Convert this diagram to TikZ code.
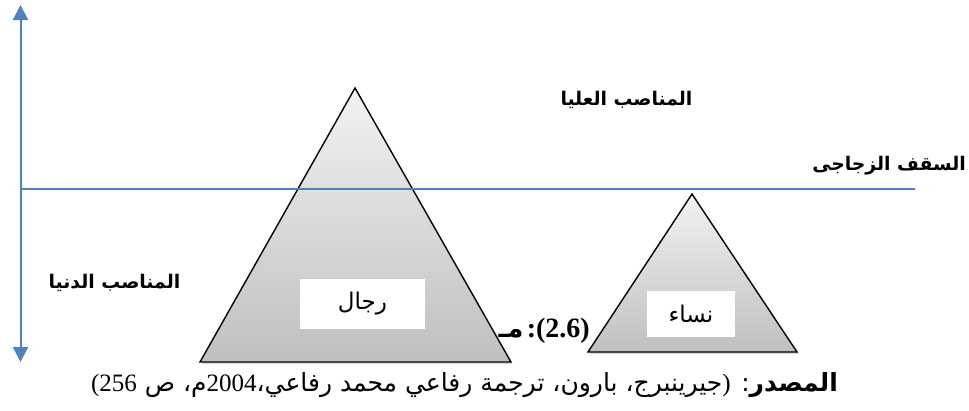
\documentclass[tikz,border=0pt]{standalone}
\usepackage{fontspec}
\setmainfont{Liberation Serif}
\newfontfamily\arabicfont[Script=Arabic]{DejaVu Sans}
\newfontfamily\serifnum{Liberation Serif}
\TeXXeTstate=1
\usetikzlibrary{arrows.meta,shadows}

\definecolor{axisblue}{HTML}{4F81BD}

\tikzset{
  pyramid/.style={draw=black,line width=1.4pt,top color=gray!10,bottom color=gray!50,
    drop shadow={opacity=0.3,shadow xshift=1.5pt,shadow yshift=-2pt}},
  groupbox/.style={fill=white,inner sep=0pt,font=\arabicfont\fontsize{23}{26}\selectfont},
  levellabel/.style={inner sep=0pt,font=\arabicfont\bfseries\fontsize{18.8}{21}\selectfont},
  axisarrow/.style={draw=axisblue,line width=2pt,
    {Triangle[width=15pt,length=15pt]}-{Triangle[width=15pt,length=15pt]}},
  ceilingline/.style={draw=axisblue,line width=1.3pt},
}

\newcommand\numfont{\serifnum\fontsize{25}{28}\selectfont}

\begin{document}
\begin{tikzpicture}[x=1pt,y=-1pt]
        \useasboundingbox (0,0) rectangle (969,410);
        % caption, partly hidden by the pyramids
        \node[inner sep=0pt,anchor=east] (caption) at (590,331) {\beginR\beginL{\serifnum\bfseries\fontsize{28}{30}\selectfont(2.6)}\endL{\serifnum\bfseries\fontsize{28}{30}\selectfont:} {\arabicfont\bfseries\fontsize{26}{28}\selectfont مـ}\endR};

        \coordinate (mentop) at (355,88);
        \coordinate (menleft) at (200,362);
        \coordinate (menright) at (511,362);
        \coordinate (womentop) at (692,194);
        \coordinate (womenleft) at (588,352);
        \coordinate (womenright) at (797,352);

        \draw[pyramid] (mentop) -- (menright) -- (menleft) -- cycle;
        \draw[pyramid] (womentop) -- (womenright) -- (womenleft) -- cycle;

        \node[groupbox,minimum width=125pt,minimum height=50pt] (men) at (362.5,304) {\beginR رجال\endR};
        \node[groupbox,minimum width=88pt,minimum height=46pt] (women) at (691,314) {\beginR نساء\endR};

        \coordinate (axistop) at (20.5,5);
        \coordinate (axisbottom) at (20.5,362);
        \draw[axisarrow] (axistop) -- (axisbottom);

        \coordinate (ceilleft) at (22,189);
        \coordinate (ceilright) at (915,189);
        \draw[ceilingline] (ceilleft) -- (ceilright);

        \node[levellabel] (upper) at (626.5,100) {\beginR المناصب العليا\endR};
        \node[levellabel] (ceiling) at (889,166) {\beginR السقف الزجاجى\endR};
        \node[levellabel] (lower) at (114.5,283) {\beginR المناصب الدنيا\endR};

        \node[inner sep=0pt] (source) at (464.5,385) {\arabicfont\fontsize{25}{28}\selectfont\beginR{\bfseries المصدر}: {\numfont )}جيرينبرج، بارون، ترجمة رفاعي محمد رفاعي،\beginL{\numfont 2004}\endL{}م، ص \beginL{\numfont 256}\endL{\numfont (}\endR};

        \end{tikzpicture}
\end{document}
